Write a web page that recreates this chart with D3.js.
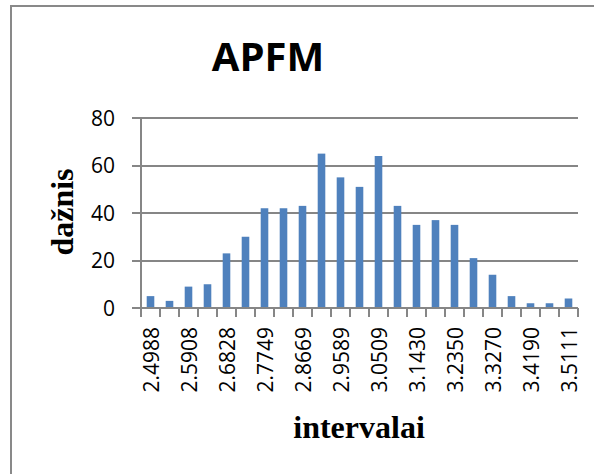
<!DOCTYPE html>
<html>
<head>
<meta charset="utf-8">
<script src="https://cdn.jsdelivr.net/npm/d3@7"></script>
<style>
  html, body { margin: 0; padding: 0; background: #fff; }
  svg { display: block; }
</style>
</head>
<body>
<svg id="chart" width="594" height="474"></svg>
<script>
// Histogram of APFM values: interval lower bounds and their frequencies
const intervals = [
  "2.4988", "2.5448", "2.5908", "2.6368", "2.6828", "2.7289", "2.7749", "2.8209",
  "2.8669", "2.9129", "2.9589", "3.0049", "3.0509", "3.0970", "3.1430", "3.1890",
  "3.2350", "3.2810", "3.3270", "3.3730", "3.4190", "3.4651", "3.5111"
];
const counts = [5, 3, 9, 10, 23, 30, 42, 42, 43, 65, 55, 51, 64, 43, 35, 37, 35, 21, 14, 5, 2, 2, 4];
const yTicks = [0, 20, 40, 60, 80];
const shownLabels = intervals.filter((d, i) => i % 2 === 0);

const chartTitle = "APFM";
const yTitle = "dažnis";
const xTitle = "intervalai";

const svg = d3.select("#chart");
const plot = { left: 141, right: 578, top: 118, bottom: 308 };

// Outer chart frame (continues past the right and bottom edges)
svg.append("rect")
  .attr("x", 11).attr("y", 6)
  .attr("width", 620).attr("height", 500)
  .attr("fill", "none").attr("stroke", "#898989").attr("stroke-width", 2);

const x = d3.scaleBand()
  .domain(intervals)
  .range([plot.left, plot.right])
  .paddingInner(0.6)
  .paddingOuter(0.3);

const y = d3.scaleLinear()
  .domain([0, 80])
  .range([plot.bottom, plot.top]);

const gridColor = "#868686";

// Horizontal gridlines with small ticks left of the axis
svg.append("g")
  .selectAll("line")
  .data(yTicks)
  .join("line")
  .attr("x1", plot.left - 9).attr("x2", plot.right)
  .attr("y1", d => Math.round(y(d))).attr("y2", d => Math.round(y(d)))
  .attr("stroke", gridColor).attr("stroke-width", 2);

// Y axis line
svg.append("line")
  .attr("x1", plot.left).attr("x2", plot.left)
  .attr("y1", plot.top - 1).attr("y2", plot.bottom)
  .attr("stroke", gridColor).attr("stroke-width", 2);

// Y tick labels
svg.append("g")
  .selectAll("text")
  .data(yTicks)
  .join("text")
  .attr("x", 115)
  .attr("y", d => y(d))
  .attr("dy", "0.36em")
  .attr("text-anchor", "end")
  .attr("font-family", "'Open Sans', sans-serif")
  .attr("font-size", 21)
  .attr("fill", "#000")
  .text(d => d);

// Bars
svg.append("g")
  .selectAll("rect")
  .data(counts)
  .join("rect")
  .attr("x", (d, i) => x(intervals[i]))
  .attr("width", x.bandwidth())
  .attr("y", d => y(d))
  .attr("height", d => y(0) - 1 - y(d))
  .attr("fill", "#4F81BD");

// X tick marks at every category boundary
const step = x.step();
const boundaries = d3.range(intervals.length + 1).map(i => Math.round(plot.left + i * step));
svg.append("g")
  .selectAll("line")
  .data(boundaries)
  .join("line")
  .attr("x1", d => d).attr("x2", d => d)
  .attr("y1", plot.bottom).attr("y2", plot.bottom + 9)
  .attr("stroke", gridColor).attr("stroke-width", 2);

// X tick labels, rotated, on every other interval
svg.append("g")
  .selectAll("text")
  .data(shownLabels)
  .join("text")
  .attr("transform", d => `translate(${x(d) + x.bandwidth() / 2 + 1},${plot.bottom + 19}) rotate(-90)`)
  .attr("dy", "0.36em")
  .attr("text-anchor", "end")
  .attr("font-family", "'Open Sans', sans-serif")
  .attr("font-size", 21)
  .attr("fill", "#000")
  .text(d => d);

// Chart title
svg.append("text")
  .attr("x", 268).attr("y", 71)
  .attr("text-anchor", "middle")
  .attr("font-family", "'Open Sans', sans-serif")
  .attr("font-weight", "bold")
  .attr("font-size", 40)
  .attr("fill", "#000")
  .text(chartTitle);

// Axis titles
svg.append("text")
  .attr("transform", "translate(73,212) rotate(-90)")
  .attr("text-anchor", "middle")
  .attr("font-family", "'Liberation Serif', 'Times New Roman', serif")
  .attr("font-weight", "bold")
  .attr("font-size", 32)
  .attr("fill", "#000")
  .text(yTitle);

svg.append("text")
  .attr("x", 359).attr("y", 438)
  .attr("text-anchor", "middle")
  .attr("font-family", "'Liberation Serif', 'Times New Roman', serif")
  .attr("font-weight", "bold")
  .attr("font-size", 32)
  .attr("fill", "#000")
  .text(xTitle);
</script>
</body>
</html>
